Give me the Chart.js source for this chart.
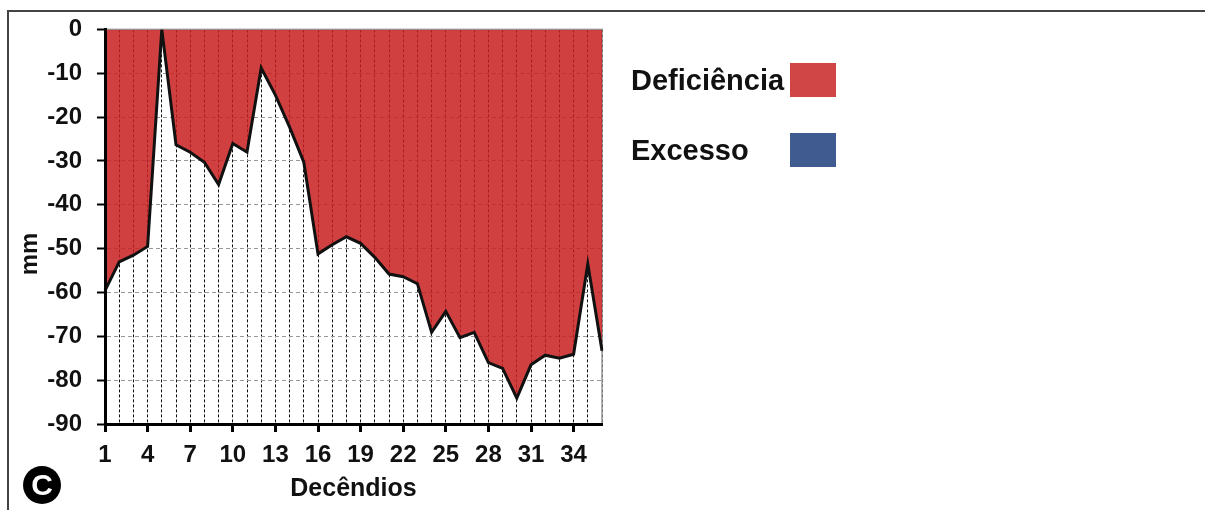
<!DOCTYPE html>
<html lang="pt">

<head>
  <meta charset="UTF-8">
  <script src="https://cdn.jsdelivr.net/npm/chart.js"></script>
  <style>
    body {
      margin: 0;
      background: #fff;
      font-family: "Liberation Sans", Arial, sans-serif;
    }

    .wrap {
      position: relative;
      width: 1205px;
      height: 510px;
      overflow: hidden;
    }

    .frame {
      position: absolute;
      left: 7px;
      top: 10px;
      width: 1200px;
      height: 510px;
      border-top: 2px solid #444;
      border-left: 2px solid #444;
    }

    #myChart {
      position: absolute;
      left: 0;
      top: 0;
    }

    .legend-item {
      position: absolute;
      left: 631px;
      font-weight: bold;
      font-size: 29px;
      color: #111;
    }

    .legend-box {
      position: absolute;
      left: 790px;
      width: 46px;
      height: 34px;
    }

    .panel {
      position: absolute;
      left: 23px;
      top: 466px;
      width: 38px;
      height: 38px;
      border-radius: 50%;
      background: #000;
      color: #fff;
      font-weight: bold;
      font-size: 30px;
      line-height: 38px;
      text-align: center;
    }
  </style>
</head>

<body>
  <div class="wrap">
    <div class="frame"></div>
    <canvas id="myChart" width="1205" height="510"></canvas>
    <div id="legend"></div>
    <div class="panel">C</div>
  </div>

  <script>
    // decêndios 1..36
    const decendios = ['1', '2', '3', '4', '5', '6', '7', '8', '9', '10', '11', '12',
      '13', '14', '15', '16', '17', '18', '19', '20', '21', '22', '23', '24',
      '25', '26', '27', '28', '29', '30', '31', '32', '33', '34', '35', '36'];
    // deficiência hídrica (mm)
    const deficiencia = [-59.6, -53, -51.5, -49.5, 0, -26.3, -28, -30.3, -35.4, -26, -28, -8.8,
      -15, -22.3, -30.3, -51.2, -49.1, -47.3, -48.8, -52, -55.8, -56.4, -58, -69.1,
      -64.3, -70.3, -69.1, -76, -77.3, -84.1, -76.5, -74.3, -75, -74.1, -53.5, -73.3];
    const legendNames = ['Deficiência', 'Excesso'];
    const legendColors = ['#d04545', '#3f5b8f'];

    const font = "'Liberation Sans', Arial, sans-serif";

    // legenda à direita (texto antes da caixa)
    document.getElementById('legend').innerHTML = legendNames.map((name, i) => `
      <div class="legend-item" style="top:${63 + i * 70}px;line-height:34px">${name}</div>
      <div class="legend-box" style="top:${63 + i * 70}px;background:${legendColors[i]}"></div>
    `).join('');

    const frameArea = {
      id: 'frameArea',
      beforeDatasetsDraw(chart) {
        const { ctx, chartArea: a } = chart;
        ctx.save();
        ctx.strokeStyle = '#999';
        ctx.lineWidth = 1.5;
        ctx.strokeRect(a.left, a.top, a.right - a.left, a.bottom - a.top);
        ctx.restore();
      },
      afterDraw(chart) {
        // título do eixo y "mm"
        const ctx = chart.ctx;
        ctx.save();
        ctx.translate(37, 254);
        ctx.rotate(-Math.PI / 2);
        ctx.font = "bold 24px " + font;
        ctx.fillStyle = '#111';
        ctx.textAlign = 'center';
        ctx.textBaseline = 'alphabetic';
        ctx.fillText('mm', 0, 0);
        ctx.restore();
      }
    };

    const ctx = document.getElementById('myChart').getContext('2d');
    const chart = new Chart(ctx, {
      type: 'line',
      data: {
        labels: decendios,
        datasets: [{
          label: legendNames[0],
          data: deficiencia,
          borderColor: '#111',
          borderWidth: 3,
          backgroundColor: 'rgba(200, 30, 30, 0.85)',
          fill: 'end',
          pointRadius: 0,
          tension: 0
        }]
      },
      options: {
        responsive: false,
        animation: false,
        layout: {
          padding: { left: 0, top: 29, right: 603, bottom: 0 }
        },
        plugins: {
          legend: { display: false },
          tooltip: { enabled: false }
        },
        scales: {
          x: {
            type: 'category',
            offset: false,
            afterFit(scale) { scale.height = 86; },
            ticks: {
              autoSkip: false,
              maxRotation: 0,
              minRotation: 0,
              padding: 9,
              color: '#111',
              font: { family: font, size: 24, weight: 'bold' },
              callback: (value, index) => index % 3 === 0 ? decendios[index] : ''
            },
            grid: {
              color: '#111',
              lineWidth: 1,
              tickLength: 8,
              tickWidth: 3,
              tickBorderDash: [],
              tickColor: (c) => c.index % 3 === 0 ? '#000' : 'rgba(0,0,0,0)'
            },
            border: { color: '#000', width: 3, dash: [3, 2], z: 1 },
            title: {
              display: true,
              text: 'Decêndios',
              color: '#111',
              font: { family: font, size: 25, weight: 'bold' },
              padding: { top: 0, bottom: 6 }
            }
          },
          y: {
            min: -90,
            max: 0,
            afterFit(scale) { scale.width = 105; },
            ticks: {
              stepSize: 10,
              padding: 15,
              color: '#111',
              font: { family: font, size: 24, weight: 'bold' }
            },
            grid: {
              color: '#999',
              lineWidth: 1,
              tickLength: 8,
              tickWidth: 2,
              tickBorderDash: [],
              tickColor: '#000'
            },
            border: { color: '#000', width: 3, dash: [4, 3], z: 1 }
          }
        }
      },
      plugins: [frameArea]
    });
  </script>
</body>

</html>
